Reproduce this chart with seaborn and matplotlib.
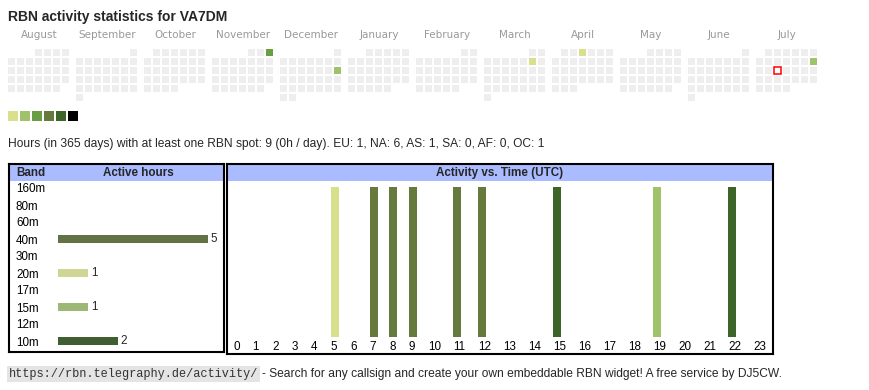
import calendar
import datetime as dt
import numpy as np
import pandas as pd
import matplotlib
matplotlib.use('Agg')
import matplotlib.pyplot as plt
from matplotlib.colors import ListedColormap
from matplotlib.patches import Rectangle
import seaborn as sns

# calendar: Aug 2024 .. Jul 2025
months = ['August', 'September', 'October', 'November', 'December', 'January',
          'February', 'March', 'April', 'May', 'June', 'July']
first_year, first_month = 2024, 8
active_days = ['2024-11-03', '2024-12-15', '2025-03-08', '2025-04-03', '2025-07-13']
active_level = [3, 2, 1, 1, 2]
today = '2025-07-16'
palette = ['#d9e08b', '#9fc26a', '#6a9e44', '#657a3c', '#3d6529', '#000000']

# band table
bands = ['160m', '80m', '60m', '40m', '30m', '20m', '17m', '15m', '12m', '10m']
band_hours = [0, 0, 0, 5, 0, 1, 0, 1, 0, 2]
band_colors = {'40m': palette[3], '20m': palette[0], '15m': palette[1], '10m': palette[4]}

# activity vs. time
hours = list(range(24))
active_hours = [5, 7, 8, 9, 11, 12, 15, 19, 22]
active_hour_band = ['20m', '40m', '40m', '40m', '40m', '40m', '10m', '15m', '10m']

title = 'RBN activity statistics for VA7DM'
info = ('Hours (in 365 days) with at least one RBN spot: 9 (0h / day). '
        'EU: 1, NA: 6, AS: 1, SA: 0, AF: 0, OC: 1')
url = 'https://rbn.telegraphy.de/activity/'
footer = '- Search for any callsign and create your own embeddable RBN widget! A free service by DJ5CW.'

sns.set_theme(style='white')
plt.rcParams['font.family'] = ['Liberation Sans', 'DejaVu Sans']

W, H = 870, 390
fig = plt.figure(figsize=(W / 100, H / 100), dpi=100)
fig.patch.set_facecolor('white')


def fx(x):
    return x / W


def fy(y):
    return 1 - y / H


def px_axes(x0, y0, x1, y1, **kw):
    return fig.add_axes([fx(x0), fy(y1), (x1 - x0) / W, (y1 - y0) / H], **kw)


fig.text(fx(8), fy(20.7), title, fontsize=10, weight='bold', va='baseline')

# month grids
cmap = ListedColormap(['#eeeeee'] + palette)
level_by_day = dict(zip(pd.to_datetime(active_days).date, active_level))
today_d = pd.Timestamp(today).date()
gap = 1.2  # white lines between cells

for i, name in enumerate(months):
    year = first_year + (first_month - 1 + i) // 12
    month = (first_month - 1 + i) % 12 + 1
    grid = np.full((6, 7), np.nan)
    mark = None
    for r, week in enumerate(calendar.monthcalendar(year, month)):
        for c, d in enumerate(week):
            if d == 0:
                continue
            day = dt.date(year, month, d)
            if day == today_d:
                mark = (r, c)
            else:
                grid[r, c] = level_by_day.get(day, 0)
    x0 = 7 + 68 * i
    ax = px_axes(x0, 48, x0 + 63, 102)
    sns.heatmap(grid, ax=ax, cmap=cmap, vmin=-0.5, vmax=6.5, cbar=False,
                linewidths=gap, linecolor='white', xticklabels=False, yticklabels=False)
    if mark is not None:
        r, c = mark
        ax.add_patch(Rectangle((c + 1 / 9, r + 1 / 9), 7 / 9, 7 / 9, facecolor='white',
                               edgecolor='red', lw=1.1, zorder=3))
    fig.text(fx(x0 + 32), fy(35.5), name, ha='center', va='center',
             color='#999999', fontsize=7.5, family='DejaVu Sans')

# colour legend
ax = px_axes(7, 110, 79, 122)
sns.heatmap([list(range(1, 7))], ax=ax, cmap=cmap, vmin=-0.5, vmax=6.5, cbar=False,
            linewidths=gap, linecolor='white', xticklabels=False, yticklabels=False)

fig.text(fx(8), fy(147), info, fontsize=8.65, va='baseline')

# ---- band table ----
head = px_axes(9, 164, 224.3, 181)
head.set_facecolor('#aabbff')
head.set_xticks([])
head.set_yticks([])
for s in head.spines.values():
    s.set_visible(False)
fig.text(fx(16), fy(173), 'Band', fontsize=8.4, weight='bold', va='center')
fig.text(fx(138), fy(173), 'Active hours', fontsize=8.4, weight='bold', va='center', ha='center')

ax = px_axes(58, 179.5, 222, 349.5)
ax.patch.set_alpha(0)
band_df = pd.DataFrame({'band': bands, 'hours': band_hours})
sns.barplot(data=band_df, x='hours', y='band', hue='band', orient='h', ax=ax,
            palette={b: band_colors.get(b, '#cccccc') for b in bands},
            width=0.42, errorbar=None, legend=False, linewidth=0)
ax.set_xlim(0, 164 / 30)
ax.set_xlabel('')
ax.set_ylabel('')
ax.set_xticks([])
ax.tick_params(axis='y', length=0, pad=42 * 0.72, labelsize=8.4, colors='black')
for lab in ax.get_yticklabels():
    lab.set_ha('left')
for s in ax.spines.values():
    s.set_visible(False)
for cont in ax.containers:
    vals = cont.datavalues
    ax.bar_label(cont, labels=[f'{v:g}' if v > 0 else '' for v in vals],
                 padding=2, fontsize=8.4)

frame = px_axes(9, 164, 224.3, 351.7)
frame.patch.set_alpha(0)
frame.set_xticks([])
frame.set_yticks([])
for s in frame.spines.values():
    s.set_color('black')
    s.set_linewidth(1.5)

# ---- activity vs time ----
head = px_axes(226.5, 163.7, 773, 181)
head.set_facecolor('#aabbff')
head.set_xticks([])
head.set_yticks([])
for s in head.spines.values():
    s.set_visible(False)
fig.text(fx(499.5), fy(173), 'Activity vs. Time (UTC)', fontsize=8.4, weight='bold',
         va='center', ha='center')

# html table columns: one-digit hours are narrower than two-digit ones
col_w = np.array([19.5 if h < 10 else 25 for h in hours])
col_left = 233 + np.concatenate([[0], np.cumsum(col_w)[:-1]])

ax = px_axes(228, 187, 772, 337)
ax.patch.set_alpha(0)
bar_x = [col_left[h] for h in active_hours]
bar_c = [band_colors[b] for b in active_hour_band]
ax.bar(bar_x, [1] * len(active_hours), width=8, align='edge', color=bar_c, linewidth=0)
ax.set_xlim(228, 772)
ax.set_ylim(0, 1)
ax.set_yticks([])
ax.set_xticks(col_left)
ax.set_xticklabels([str(h) for h in hours])
for lab in ax.get_xticklabels():
    lab.set_ha('left')
ax.tick_params(axis='x', length=0, pad=3, labelsize=8.4, colors='black')
for s in ax.spines.values():
    s.set_visible(False)

frame = px_axes(226.5, 163.7, 773, 353.8)
frame.patch.set_alpha(0)
frame.set_xticks([])
frame.set_yticks([])
for s in frame.spines.values():
    s.set_color('black')
    s.set_linewidth(1.5)

# footer
fig.text(fx(8.5), fy(374), url, family=['Liberation Mono', 'DejaVu Sans Mono'], fontsize=8.55,
         va='center', color='#333333',
         bbox=dict(boxstyle='square,pad=0.15', facecolor='#e4e4e4', edgecolor='none'))
fig.text(fx(262), fy(374), footer, fontsize=8.65, va='center')

fig.savefig('out.png', dpi=100)
